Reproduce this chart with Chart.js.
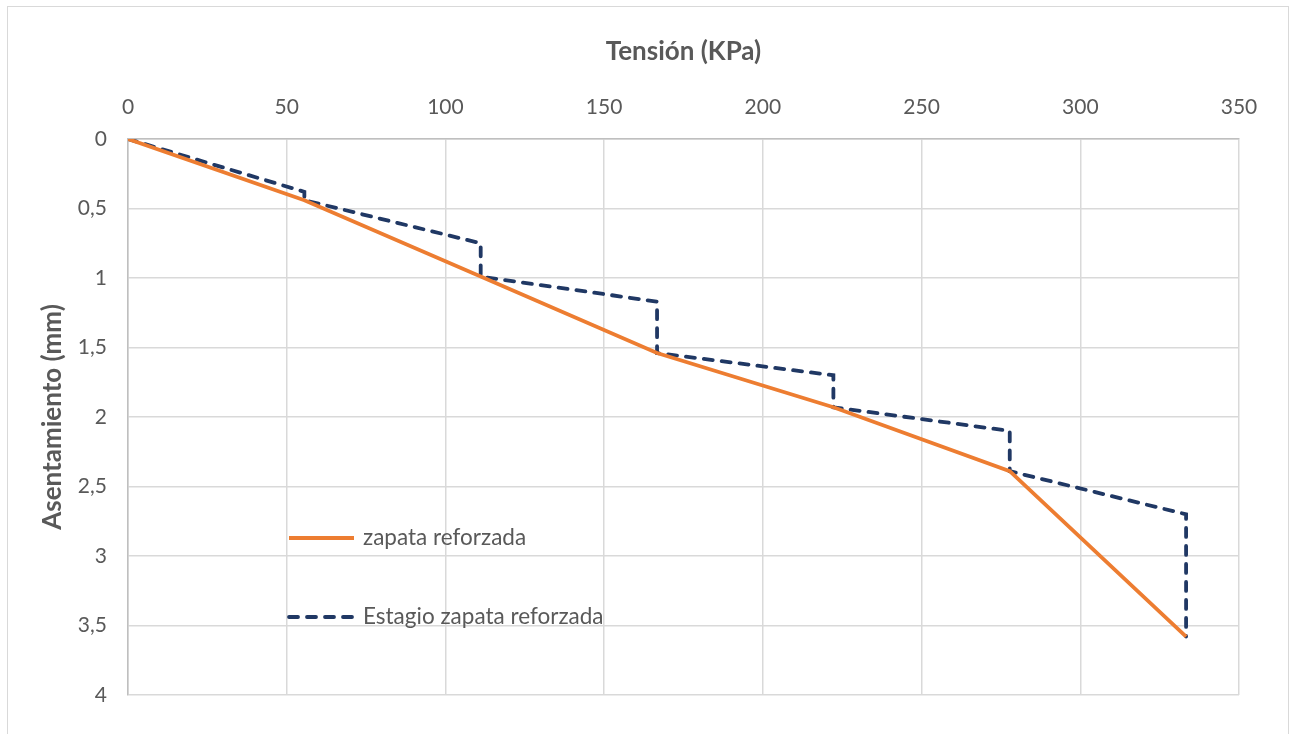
<!DOCTYPE html>
<html>
<head>
<meta charset="utf-8">
<script src="https://cdn.jsdelivr.net/npm/chart.js@4"></script>
<style>
    html, body { margin: 0; padding: 0; background: #ffffff; }
    .chart-box {
        position: relative;
        width: 1292px;
        height: 734px;
        overflow: hidden;
    }
    .chart-frame {
        position: absolute;
        left: 7px;
        top: 6px;
        width: 1282px;
        height: 740px;
        border: 1px solid #d9d9d9;
        box-sizing: border-box;
        pointer-events: none;
    }
    canvas { position: absolute; left: 0; top: 0; }
</style>
</head>
<body>
<div class="chart-box">
    <div class="chart-frame"></div>
    <canvas id="settlementChart" width="1292" height="734"></canvas>
</div>
<script>
// Load stages (KPa) and settlements (mm)
const tension = [0, 55.56, 111.11, 166.67, 222.22, 277.78, 333.33];
const settlement = [0, 0.44, 0.99, 1.54, 1.93, 2.39, 3.58];

// Staged curve: each step is (start, end of hold) at the same tension
const stageTension = [0, 55.56, 55.56, 111.11, 111.11, 166.67, 166.67, 222.22, 222.22, 277.78, 277.78, 333.33, 333.33];
const stageSettlement = [0, 0.38, 0.44, 0.75, 0.99, 1.17, 1.54, 1.70, 1.93, 2.10, 2.39, 2.70, 3.58];

const xTicks = [0, 50, 100, 150, 200, 250, 300, 350];
const yTicks = [0, 0.5, 1, 1.5, 2, 2.5, 3, 3.5, 4];

const seriesNames = ['zapata reforzada', 'Estagio zapata reforzada'];

const FONT = 'Lato, "Open Sans", sans-serif';
const TEXT = '#595959';
const GRID = '#d9d9d9';

const toPoints = (xs, ys) => xs.map((x, i) => ({ x: x, y: ys[i] }));

// Legend drawn inside the plot area
const innerLegend = {
    id: 'innerLegend',
    afterDraw(chart) {
        const ctx = chart.ctx;
        const rows = [538, 617];
        ctx.save();
        chart.data.datasets.forEach((ds, i) => {
            const y = rows[i];
            ctx.beginPath();
            ctx.strokeStyle = ds.borderColor;
            ctx.lineWidth = ds.borderWidth;
            ctx.lineCap = ds.borderCapStyle || 'butt';
            ctx.setLineDash(ds.borderDash || []);
            ctx.moveTo(289, y);
            ctx.lineTo(354, y);
            ctx.stroke();
            ctx.setLineDash([]);
            ctx.fillStyle = TEXT;
            ctx.font = '22.5px ' + FONT;
            ctx.textBaseline = 'middle';
            ctx.fillText(ds.label, 363, y);
        });
        ctx.restore();
    }
};

new Chart(document.getElementById('settlementChart'), {
    type: 'line',
    data: {
        datasets: [
            {
                label: seriesNames[0],
                data: toPoints(tension, settlement),
                borderColor: '#ED7D31',
                borderWidth: 3.8,
                pointRadius: 0,
                tension: 0
            },
            {
                label: seriesNames[1],
                data: toPoints(stageTension, stageSettlement),
                borderColor: '#203864',
                borderWidth: 3.8,
                borderDash: [9, 9],
                borderCapStyle: 'round',
                pointRadius: 0,
                tension: 0
            }
        ]
    },
    options: {
        responsive: false,
        animation: false,
        layout: { padding: { left: 10, top: 20, right: 53, bottom: 39 } },
        plugins: {
            legend: { display: false },
            tooltip: { enabled: false }
        },
        scales: {
            x: {
                type: 'linear',
                position: 'top',
                min: 0,
                max: 350,
                afterBuildTicks: s => { s.ticks = xTicks.map(v => ({ value: v })); },
                afterFit: s => { s.height = 119; },
                grid: { color: GRID, lineWidth: 1.5, drawTicks: false },
                border: { color: '#bfbfbf', width: 1.5 },
                ticks: {
                    color: TEXT,
                    font: { family: FONT, size: 21 },
                    padding: 19,
                    maxRotation: 0
                },
                title: {
                    display: true,
                    text: 'Tensión (KPa)',
                    color: TEXT,
                    font: { family: FONT, size: 26, weight: 'bold' },
                    padding: { top: 16, bottom: 0 }
                }
            },
            y: {
                type: 'linear',
                reverse: true,
                min: 0,
                max: 4,
                afterBuildTicks: s => { s.ticks = yTicks.map(v => ({ value: v })); },
                afterFit: s => { s.width = 118; },
                grid: { color: GRID, lineWidth: 1.5, drawTicks: false },
                border: { color: '#bfbfbf', width: 1.5 },
                ticks: {
                    color: TEXT,
                    font: { family: FONT, size: 21 },
                    padding: 21,
                    callback: v => String(v).replace('.', ',')
                },
                title: {
                    display: true,
                    text: 'Asentamiento (mm)',
                    color: TEXT,
                    font: { family: FONT, size: 26, weight: 'bold' },
                    padding: { top: 27, bottom: 0 }
                }
            }
        }
    },
    plugins: [innerLegend]
});
</script>
</body>
</html>
